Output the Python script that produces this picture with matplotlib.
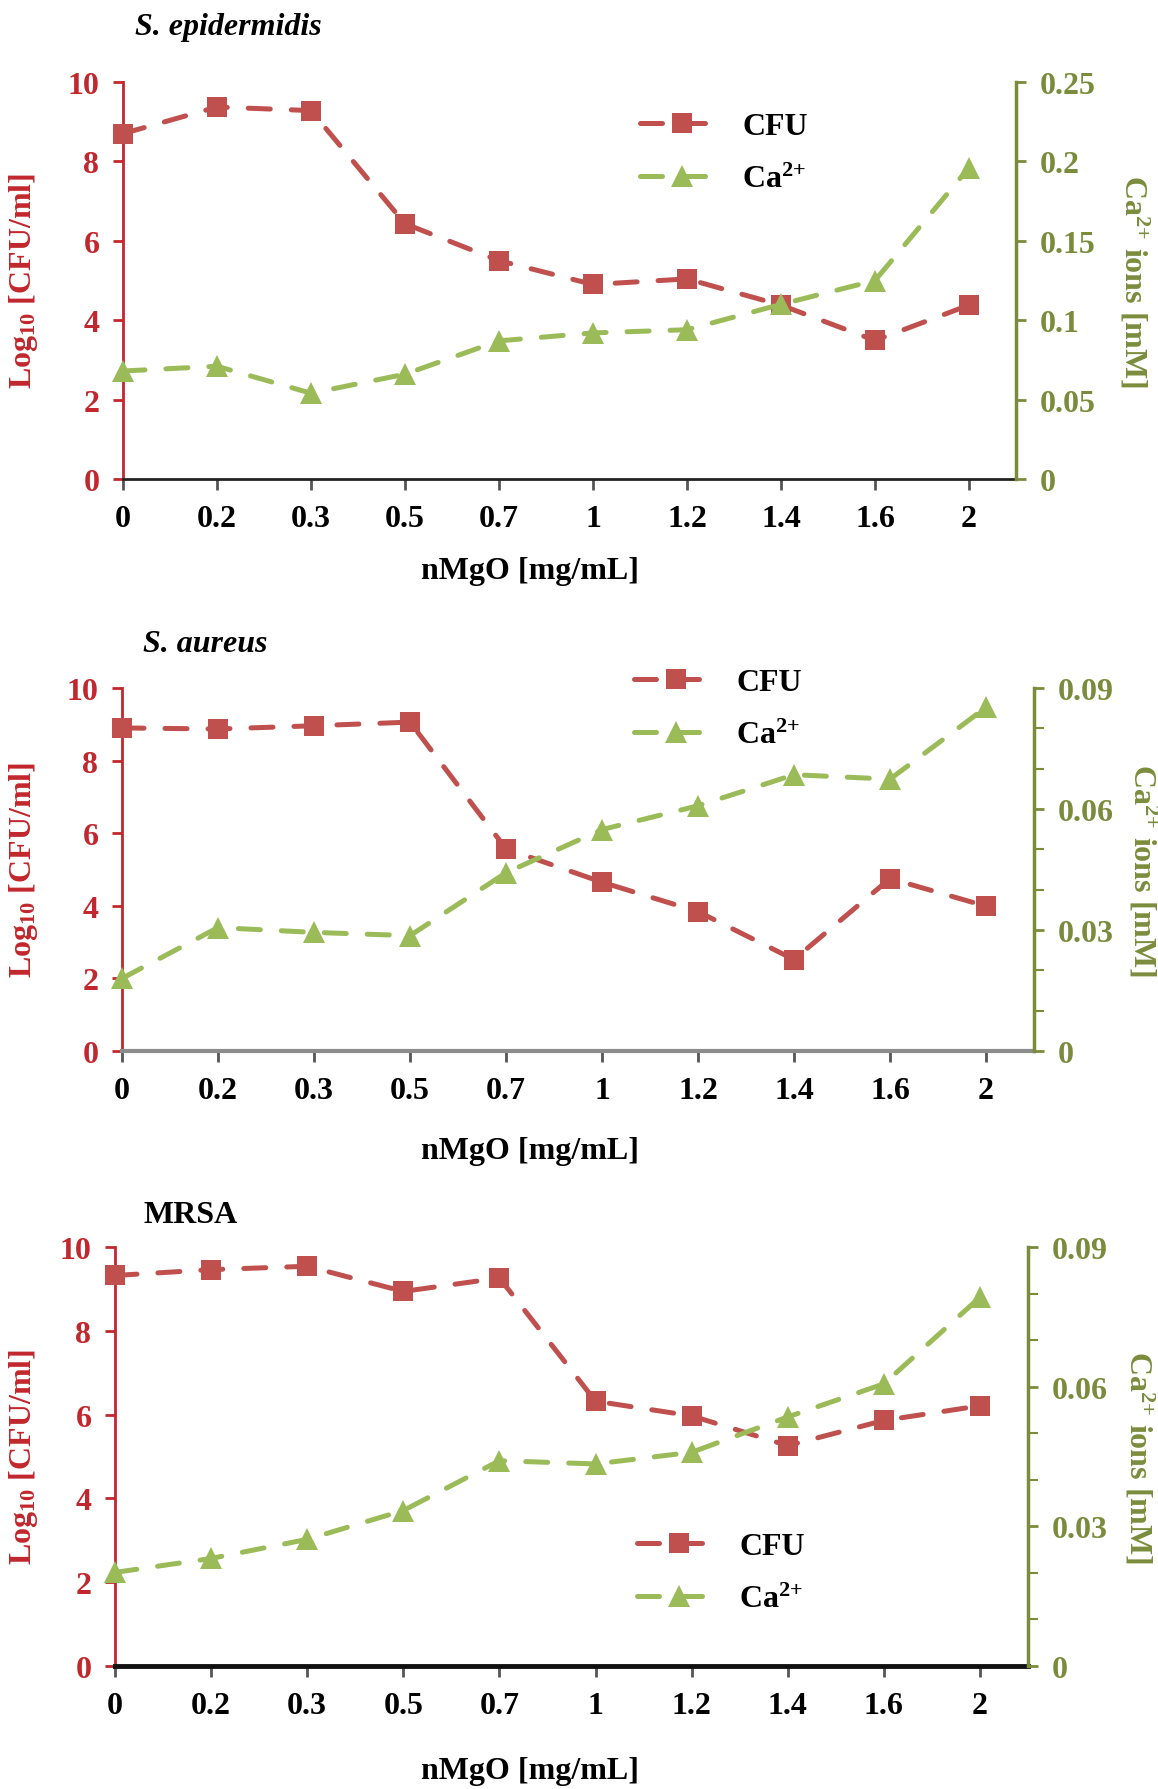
import matplotlib
matplotlib.use("Agg")
import matplotlib.pyplot as plt
from matplotlib.ticker import MultipleLocator, FuncFormatter

plt.rcParams['font.family'] = ['Liberation Serif', 'DejaVu Serif']
plt.rcParams['mathtext.fontset'] = 'custom'
plt.rcParams['mathtext.rm'] = 'Liberation Serif:bold'
plt.rcParams['mathtext.bf'] = 'Liberation Serif:bold'
plt.rcParams['mathtext.it'] = 'Liberation Serif:bold:italic'

# ---------------- data ----------------
concentrations = ["0", "0.2", "0.3", "0.5", "0.7", "1", "1.2", "1.4", "1.6", "2"]

titles = ["S. epidermidis", "S. aureus", "MRSA"]

cfu_epi = [8.70, 9.37, 9.28, 6.43, 5.50, 4.90, 5.04, 4.38, 3.49, 4.38]
ca_epi = [0.068, 0.071, 0.054, 0.066, 0.087, 0.092, 0.094, 0.110, 0.125, 0.196]

cfu_aur = [8.90, 8.87, 8.96, 9.06, 5.57, 4.65, 3.84, 2.52, 4.75, 3.99]
ca_aur = [0.018, 0.0306, 0.0294, 0.0286, 0.0442, 0.0549, 0.0608, 0.0685, 0.0674, 0.0852]

cfu_mrsa = [9.32, 9.46, 9.54, 8.94, 9.26, 6.32, 5.97, 5.26, 5.86, 6.21]
ca_mrsa = [0.0201, 0.0231, 0.0272, 0.0334, 0.0441, 0.0434, 0.0459, 0.0535, 0.0606, 0.0792]

ca_max = [0.25, 0.09, 0.09]
ca_major = [0.05, 0.03, 0.03]
ca_minor = [None, 0.01, 0.01]

# ---------------- style ----------------
RED_AX = "#C1272D"
GREEN_AX = "#7A8C3C"
CFU_C = "#C0504D"
CA_C = "#9BBB59"
FS = 23

fig = plt.figure(figsize=(11.58, 17.90), dpi=100)

# axes rectangles in pixels: left, right, top, bottom
rects_px = [(123, 1016, 83, 480), (122, 1034, 689, 1052), (115, 1028, 1248, 1667)]
bottom_spine = [("#222222", 2.0), ("#8C8C8C", 3.0), ("#111111", 3.5)]
title_pos = [(135, 27, 'italic'), (143, 645, 'italic'), (143, 1216, 'normal')]
legend_pos = [(640, 154), (634, 710), (637, 1574)]
xlabel_y = [571, 1152, 1772]
left_label_x = [40, 40, 40]
right_label_x = [1134, 1143, 1139]

W, H = 1158.0, 1790.0
series = [(cfu_epi, ca_epi), (cfu_aur, ca_aur), (cfu_mrsa, ca_mrsa)]

for i, ((cfu, ca), (l, r, t, b)) in enumerate(zip(series, rects_px)):
    ax = fig.add_axes([l / W, 1 - b / H, (r - l) / W, (b - t) / H])
    ax2 = ax.twinx()
    x = list(range(len(concentrations)))

    h1, = ax.plot(x, cfu, color=CFU_C, lw=3.6, dashes=(4.4, 4.2), dash_capstyle='round',
                  marker='s', markersize=14.5, markeredgewidth=0, label='CFU', clip_on=False, zorder=3)
    h2, = ax2.plot(x, ca, color=CA_C, lw=3.6, dashes=(4.4, 4.2), dash_capstyle='round',
                   marker='^', markersize=16, markeredgewidth=0, label=r'Ca$^{2{+}}$', clip_on=False, zorder=3)

    ax.set_xlim(0, 9.5)
    ax.set_ylim(0, 10)
    ax.yaxis.set_major_locator(MultipleLocator(2))
    ax2.set_ylim(0, ca_max[i])
    ax2.yaxis.set_major_locator(MultipleLocator(ca_major[i]))
    if ca_minor[i]:
        ax2.yaxis.set_minor_locator(MultipleLocator(ca_minor[i]))
        ax2.tick_params(axis='y', which='minor', length=7, width=1.5, color=GREEN_AX, direction='out')
    ax2.yaxis.set_major_formatter(FuncFormatter(lambda v, p: ('%g' % round(v, 4))))

    ax.set_xticks(x)
    ax.set_xticklabels(concentrations)

    for a in (ax, ax2):
        a.spines['top'].set_visible(False)
    ax.spines['right'].set_visible(False)
    ax2.spines['left'].set_visible(False)
    ax2.spines['bottom'].set_visible(False)
    ax.spines['left'].set_color(RED_AX)
    ax.spines['left'].set_linewidth(2)
    ax2.spines['right'].set_color(GREEN_AX)
    ax2.spines['right'].set_linewidth(2.5)
    ax.spines['bottom'].set_color(bottom_spine[i][0])
    ax.spines['bottom'].set_linewidth(bottom_spine[i][1])

    ax.tick_params(axis='y', length=7, width=2, color=RED_AX, labelcolor=RED_AX,
                   labelsize=FS, pad=10, direction='out')
    ax2.tick_params(axis='y', which='major', length=7, width=2, color=GREEN_AX, labelcolor=GREEN_AX,
                    labelsize=FS, pad=10, direction='out')
    ax.tick_params(axis='x', length=8, width=2, color='#555555', labelcolor='black',
                   labelsize=FS, pad=10, direction='out')
    for lab in ax.get_yticklabels() + ax2.get_yticklabels() + ax.get_xticklabels():
        lab.set_fontweight('bold')

    ax.set_ylabel(r'Log$_{\mathbf{10}}$ [CFU/ml]', color=RED_AX, fontsize=FS, fontweight='bold')
    ax.yaxis.set_label_coords(left_label_x[i] / W, 1 - ((t + b) / 2) / H, transform=fig.transFigure)
    ax2.set_ylabel(r'Ca$^{2{+}}$ ions [mM]', color=GREEN_AX, fontsize=FS, fontweight='bold',
                   rotation=270, va='center')
    ax2.yaxis.set_label_coords(right_label_x[i] / W, 1 - ((t + b) / 2) / H, transform=fig.transFigure)
    ax.set_xlabel('nMgO [mg/mL]', fontsize=FS, fontweight='bold', va='center')
    ax.xaxis.set_label_coords(530 / W, 1 - xlabel_y[i] / H, transform=fig.transFigure)

    tx, ty, st = title_pos[i]
    fig.text(tx / W, 1 - ty / H, titles[i], fontsize=FS, fontweight='bold', style=st,
             ha='left', va='center')

    lx, ly = legend_pos[i]
    ax2.legend(handles=[h1, h2], loc='center left', bbox_to_anchor=(lx / W, 1 - ly / H),
               bbox_transform=fig.transFigure, frameon=False,
               borderpad=0, borderaxespad=0, handlelength=2.6, handletextpad=0.6,
               labelspacing=0.75, prop={'weight': 'bold', 'size': FS})

fig.savefig("out.png", dpi=100)
